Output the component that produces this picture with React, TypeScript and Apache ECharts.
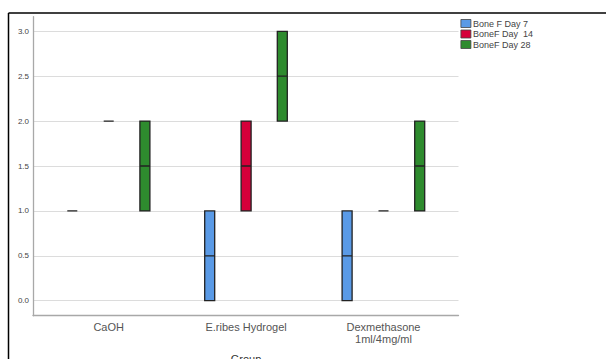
import React, { useEffect, useRef } from 'react';
import * as echarts from 'echarts';

const categories = ['CaOH', 'E.ribes Hydrogel', 'Dexmethasone\n1ml/4mg/ml'];
const seriesNames = ['Bone F Day 7', 'BoneF Day  14', 'BoneF Day 28'];
const seriesColors = ['#5A9AE6', '#D6003A', '#2E8B2E'];
// [min, Q1, median, Q3, max]
const day7 = [[1, 1, 1, 1, 1], [0, 0, 0.5, 1, 1], [0, 0, 0.5, 1, 1]];
const day14 = [[2, 2, 2, 2, 2], [1, 1, 1.5, 2, 2], [1, 1, 1, 1, 1]];
const day28 = [[1, 1, 1.5, 2, 2], [2, 2, 2.5, 3, 3], [1, 1, 1.5, 2, 2]];
const seriesData = [day7, day14, day28];
const yMin = 0;
const yMax = 3;
const yInterval = 0.5;
const axisTitle = 'Group';

export default function App() {
  const ref = useRef<HTMLDivElement>(null);
  useEffect(() => {
    if (!ref.current) return;
    const chart = echarts.init(ref.current, null, { renderer: 'svg' });
    const font = 'Liberation Sans, Arial, sans-serif';
    const axisGray = '#A8A8A8';
    const boxOffsets = [-36.4, 0, 36.2];
    const plotTop = 31.3;
    const plotHeight = 269.4;
    const bandLeft = 40;
    const bandWidth = 412.2;
    chart.setOption({
      animation: false,
      textStyle: { fontFamily: font },
      grid: [
        { left: 33, top: 16.7, width: 425.5, height: 299, containLabel: false },
        { left: 33, top: plotTop, width: 425.5, height: plotHeight, containLabel: false },
        ...boxOffsets.map((o) => ({ left: bandLeft + o, top: plotTop, width: bandWidth, height: plotHeight, containLabel: false })),
      ],
      xAxis: [
        {
          gridIndex: 0, type: 'value', min: 0, max: 1,
          axisLine: { show: true, onZero: false, lineStyle: { color: axisGray, width: 1.3 } },
          axisTick: { show: false }, axisLabel: { show: false }, splitLine: { show: false },
        },
        { gridIndex: 1, type: 'value', min: 0, max: 1, show: false },
        ...boxOffsets.map((o, i) => ({
          gridIndex: 2 + i, type: 'category', data: categories,
          axisLine: { show: false }, axisTick: { show: false }, splitLine: { show: false },
          axisLabel: { show: i === 1, margin: 20, fontSize: 11, lineHeight: 12, color: '#555', fontFamily: font },
        })),
      ],
      yAxis: [
        {
          gridIndex: 0, type: 'value', min: -1 / 6, max: 19 / 6,
          axisLine: { show: true, onZero: false, lineStyle: { color: axisGray, width: 1.3 } },
          axisTick: { show: false }, axisLabel: { show: false }, splitLine: { show: false },
        },
        {
          gridIndex: 1, type: 'value', min: yMin, max: yMax, interval: yInterval,
          axisLine: { show: false }, axisTick: { show: false },
          axisLabel: {
            margin: 4, fontSize: 8, color: '#444', fontFamily: font,
            formatter: (v: number) => v.toFixed(1),
          },
          splitLine: { show: true, lineStyle: { color: '#DCDCDC', width: 1 } },
        },
        ...boxOffsets.map((o, i) => ({ gridIndex: 2 + i, type: 'value', min: yMin, max: yMax, show: false })),
      ],
      legend: {
        orient: 'vertical', left: 460.5, top: 18.5, icon: 'rect', padding: 0,
        itemWidth: 10, itemHeight: 8, itemGap: 0.5,
        textStyle: { fontSize: 9, lineHeight: 10, color: '#444', fontFamily: font, padding: [0, 0, 0, -3] },
        data: seriesNames.map((n, i) => ({
          name: n,
          itemStyle: { color: seriesColors[i], borderColor: '#444', borderWidth: 0.8 },
        })),
      },
      series: seriesNames.map((name, i) => ({
        name,
        type: 'boxplot',
        xAxisIndex: 2 + i,
        yAxisIndex: 2 + i,
        boxWidth: [10, 10],
        data: seriesData[i],
        itemStyle: { color: seriesColors[i], borderColor: '#222', borderWidth: 1.3 },
        emphasis: { disabled: true },
        silent: true,
      })),
      graphic: [
        { type: 'line', shape: { x1: 8.5, y1: 13, x2: 606, y2: 13 }, style: { stroke: '#000', lineWidth: 1.5 } },
        { type: 'line', shape: { x1: 8.5, y1: 13, x2: 8.5, y2: 359 }, style: { stroke: '#000', lineWidth: 1.5 } },
        {
          type: 'text', x: 246, y: 353.5,
          style: { text: axisTitle, fontSize: 11, fill: '#333', fontFamily: font, align: 'center', verticalAlign: 'top' },
        },
      ],
    });
    return () => chart.dispose();
  }, []);
  return <div ref={ref} style={{ position: 'absolute', left: 0, top: 0, width: 606, height: 359 }} />;
}
